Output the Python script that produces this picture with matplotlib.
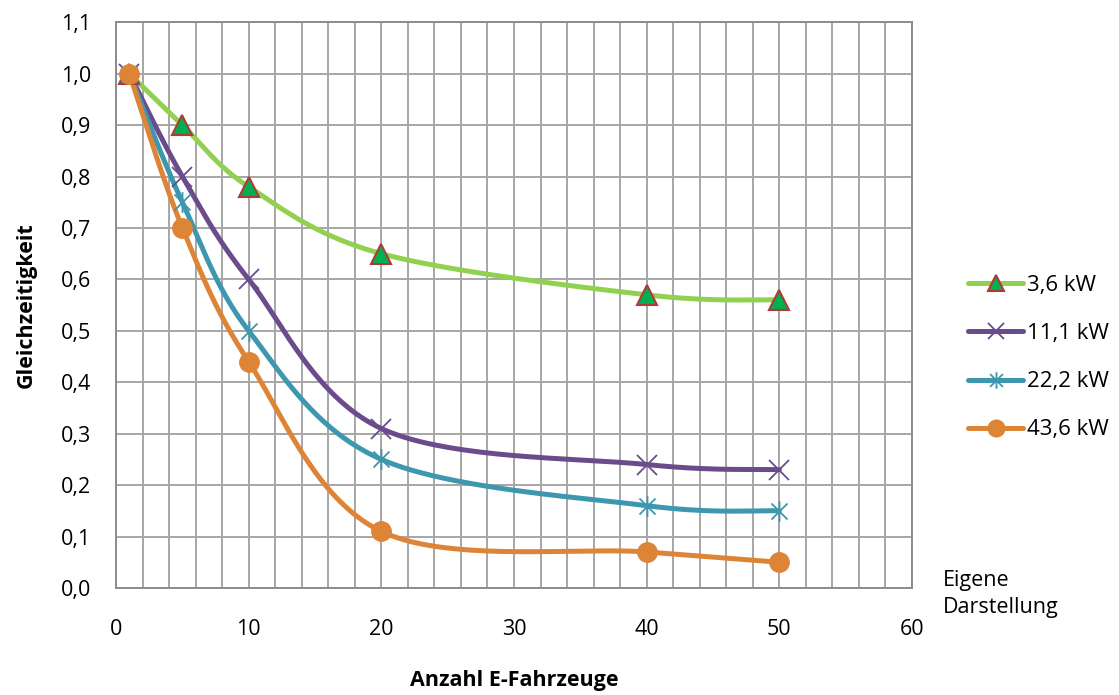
import numpy as np
import matplotlib
matplotlib.use("Agg")
import matplotlib.pyplot as plt
from matplotlib.path import Path
from matplotlib.lines import Line2D

plt.rcParams['font.family'] = ['Open Sans', 'DejaVu Sans']

# data
fahrzeuge = [1, 5, 10, 20, 40, 50]
kw_3_6 = [1.0, 0.90, 0.78, 0.65, 0.57, 0.56]
kw_11_1 = [1.0, 0.80, 0.60, 0.31, 0.24, 0.23]
kw_22_2 = [1.0, 0.75, 0.50, 0.25, 0.16, 0.15]
kw_43_6 = [1.0, 0.70, 0.44, 0.11, 0.07, 0.05]
labels = ['3,6 kW', '11,1 kW', '22,2 kW', '43,6 kW']

GREEN = '#92D050'
PURPLE = '#6A4C8C'
TEAL = '#3C97AF'
ORANGE = '#DE8436'


def smooth(x, y, n=40):
    # Excel-like smoothed line: Catmull-Rom segments as cubic Bezier
    x = np.asarray(x, float)
    y = np.asarray(y, float)
    px = np.concatenate([[x[0]], x, [x[-1]]])
    py = np.concatenate([[y[0]], y, [y[-1]]])
    xs, ys = [], []
    t = np.linspace(0, 1, n)
    for i in range(1, len(px) - 2):
        p0 = np.array([px[i], py[i]])
        p3 = np.array([px[i + 1], py[i + 1]])
        p1 = p0 + (np.array([px[i + 1], py[i + 1]]) - np.array([px[i - 1], py[i - 1]])) / 6
        p2 = p3 - (np.array([px[i + 2], py[i + 2]]) - np.array([px[i], py[i]])) / 6
        b = ((1 - t) ** 3)[:, None] * p0 + (3 * (1 - t) ** 2 * t)[:, None] * p1 \
            + (3 * (1 - t) * t ** 2)[:, None] * p2 + (t ** 3)[:, None] * p3
        xs.extend(b[:, 0])
        ys.extend(b[:, 1])
    return np.array(xs), np.array(ys)


# asterisk marker: x plus vertical bar
star = Path([(-1, -1), (1, 1), (-1, 1), (1, -1), (0, -1.3), (0, 1.3)],
            [Path.MOVETO, Path.LINETO, Path.MOVETO, Path.LINETO, Path.MOVETO, Path.LINETO])

fig = plt.figure(figsize=(11.19, 6.95), dpi=100)
ax = fig.add_axes([0.1037, 0.154, 0.7113, 0.814])

series = [
    (kw_3_6, GREEN, dict(marker='^', markerfacecolor='#00B050',
                         markeredgecolor='#B03A3A', markeredgewidth=1.5), 14, 11),
    (kw_11_1, PURPLE, dict(marker='x', markerfacecolor='none',
                           markeredgecolor=PURPLE, markeredgewidth=1.3), 14, 12),
    (kw_22_2, TEAL, dict(marker=star, markerfacecolor='none',
                         markeredgecolor=TEAL, markeredgewidth=1.3), 15, 12),
    (kw_43_6, ORANGE, dict(marker='o', markerfacecolor=ORANGE,
                           markeredgecolor=ORANGE, markeredgewidth=1), 14, 12),
]

handles = []
for vals, col, mk, ms, ms_leg in series:
    sx, sy = smooth(fahrzeuge, vals)
    ax.plot(sx, sy, color=col, lw=3.6, solid_capstyle='round', zorder=3)
    ax.plot(fahrzeuge, vals, linestyle='none', markersize=ms, zorder=4, **mk)
    handles.append(Line2D([], [], color=col, lw=3.6, solid_capstyle='round',
                          markersize=ms_leg, **mk))

ax.set_xlim(0, 60)
ax.set_ylim(0, 1.1)
ax.set_xticks(np.arange(0, 61, 10))
ax.set_xticks(np.arange(0, 61, 2), minor=True)
ax.set_yticks(np.arange(0, 1.11, 0.1))
ax.set_yticklabels([f'{v:.1f}'.replace('.', ',') for v in np.arange(0, 1.11, 0.1)])
ax.tick_params(axis='both', which='both', length=0, labelsize=15.5)
ax.tick_params(axis='y', pad=18)
ax.tick_params(axis='x', pad=22)
ax.grid(True, which='both', color='#A6A6A6', lw=1.4)
ax.set_axisbelow(True)
for s in ax.spines.values():
    s.set_color('#8C8C8C')
    s.set_linewidth(1.4)

ax.set_ylabel('Gleichzeitigkeit', fontsize=15.5, fontweight='bold', labelpad=17)
ax.set_xlabel('Anzahl E-Fahrzeuge', fontsize=15.5, fontweight='bold', labelpad=22)

fig.legend(handles, labels, loc='upper left', bbox_to_anchor=(0.857, 0.617),
           frameon=False, fontsize=16, handlelength=2.5, handletextpad=0.15,
           labelspacing=1.22, borderaxespad=0)

fig.text(0.843, 0.145, 'Eigene\nDarstellung', fontsize=15.5, ha='left', va='center',
         linespacing=1.35)

fig.savefig('out.png', dpi=100)
